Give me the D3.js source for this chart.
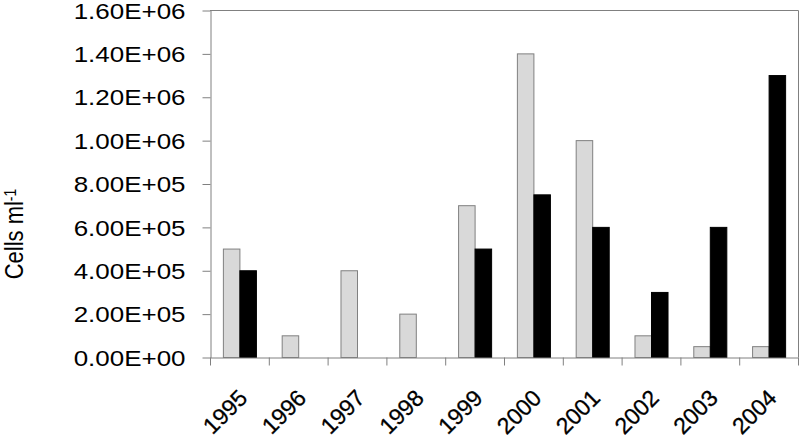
<!DOCTYPE html>
<html>
<head>
<meta charset="utf-8">
<script src="https://cdn.jsdelivr.net/npm/d3@7"></script>
<style>
  html, body { margin: 0; padding: 0; background: #fff; }
  svg { display: block; }
  text { font-family: "Liberation Sans", Arial, sans-serif; fill: #000; }
</style>
</head>
<body>
<svg id="chart" width="800" height="441"></svg>
<script>
const years = ["1995","1996","1997","1998","1999","2000","2001","2002","2003","2004"];
const seriesNames = ["grey", "black"];
const greyValues  = [500000, 100000, 400000, 200000, 700000, 1400000, 1000000, 100000, 50000, 50000];
const blackValues = [400000, 0, 0, 0, 500000, 750000, 600000, 300000, 600000, 1300000];
const yTicks = [0, 200000, 400000, 600000, 800000, 1000000, 1200000, 1400000, 1600000];
const yLabel = "Cells ml";
const yLabelSup = "-1";

(function () {
const SX = 1.18; // horizontal stretch of the original picture
const svg = d3.select("#chart");
const pLeft = 210, pRight = 798, pTop = 10.5, pBottom = 357.5;
const axisColor = "#808080";

const y = d3.scaleLinear().domain([0, 1600000]).range([pBottom, pTop]);
const x0 = d3.scaleBand().domain(years).range([pLeft, pRight]).paddingInner(0).paddingOuter(0);
const x1 = d3.scaleBand().domain(seriesNames).range([0, x0.bandwidth()]).paddingInner(0).paddingOuter(0.78);
const xLin = d3.scaleLinear().domain([0, years.length]).range([pLeft, pRight]);

function fmt(v) {
  if (v === 0) return "0.00E+00";
  const e = Math.floor(Math.log10(v) + 1e-9);
  const m = v / Math.pow(10, e);
  return m.toFixed(2) + "E+" + String(e).padStart(2, "0");
}

// bars
const rows = years.map((yr, i) => ({ year: yr, vals: [
  { s: "grey", v: greyValues[i] }, { s: "black", v: blackValues[i] }] }));
const g = svg.append("g");
g.selectAll("g.grp").data(rows).join("g")
  .attr("class", "grp")
  .attr("transform", d => `translate(${x0(d.year)},0)`)
  .selectAll("rect").data(d => d.vals.filter(o => o.v > 0)).join("rect")
  .attr("x", d => x1(d.s) + 0.5)
  .attr("y", d => y(d.v))
  .attr("width", x1.bandwidth())
  .attr("height", d => y(0) - y(d.v))
  .attr("fill", d => d.s === "grey" ? "#d9d9d9" : "#000")
  .attr("stroke", d => d.s === "grey" ? "#808080" : "#000")
  .attr("stroke-width", 1);

// frame top & right
svg.append("line").attr("x1", pLeft).attr("x2", pRight + 0.5).attr("y1", pTop).attr("y2", pTop)
  .attr("stroke", axisColor);
svg.append("line").attr("x1", pRight + 0.5).attr("x2", pRight + 0.5).attr("y1", pTop).attr("y2", pBottom)
  .attr("stroke", axisColor);

// y axis
const yAxis = svg.append("g").attr("transform", `translate(${pLeft + 0.5},0)`)
  .call(d3.axisLeft(y).tickValues(yTicks).tickFormat(fmt).tickSize(8).tickSizeOuter(0));
yAxis.select(".domain").attr("stroke", axisColor);
yAxis.selectAll(".tick line").attr("stroke", axisColor);
yAxis.selectAll(".tick text")
  .attr("x", null)
  .attr("dy", "0.35em")
  .attr("transform", `translate(-25,0) scale(${SX},1)`)
  .attr("text-anchor", "end")
  .style("font-size", "22px")
  .style("font-family", "'Liberation Sans', Arial, sans-serif")
  .attr("fill", "#000");

// x axis
const xAxis = svg.append("g").attr("transform", `translate(0,${pBottom})`)
  .call(d3.axisBottom(xLin).tickValues(d3.range(0, years.length + 1)).tickFormat("").tickSize(8).tickSizeOuter(0));
xAxis.select(".domain").attr("stroke", axisColor);
xAxis.selectAll(".tick line").attr("stroke", axisColor);

svg.append("g").selectAll("text").data(years).join("text")
  .attr("transform", d => `translate(${x0(d) + x0.bandwidth() / 2 - 2},388) rotate(-45)`)
  .attr("text-anchor", "end")
  .attr("dy", "0.7em")
  .style("font-size", "23px")
  .style("stroke", "#000")
  .style("stroke-width", "0.3px")
  .text(d => d);

// y label
const yl = svg.append("text")
  .attr("transform", `translate(23,234) scale(${SX},1) rotate(-90)`)
  .attr("text-anchor", "middle")
  .style("font-size", "22px");
yl.append("tspan").text(yLabel);
yl.append("tspan").attr("dy", "-0.45em").style("font-size", "14px").text(yLabelSup);
})();
</script>
</body>
</html>
